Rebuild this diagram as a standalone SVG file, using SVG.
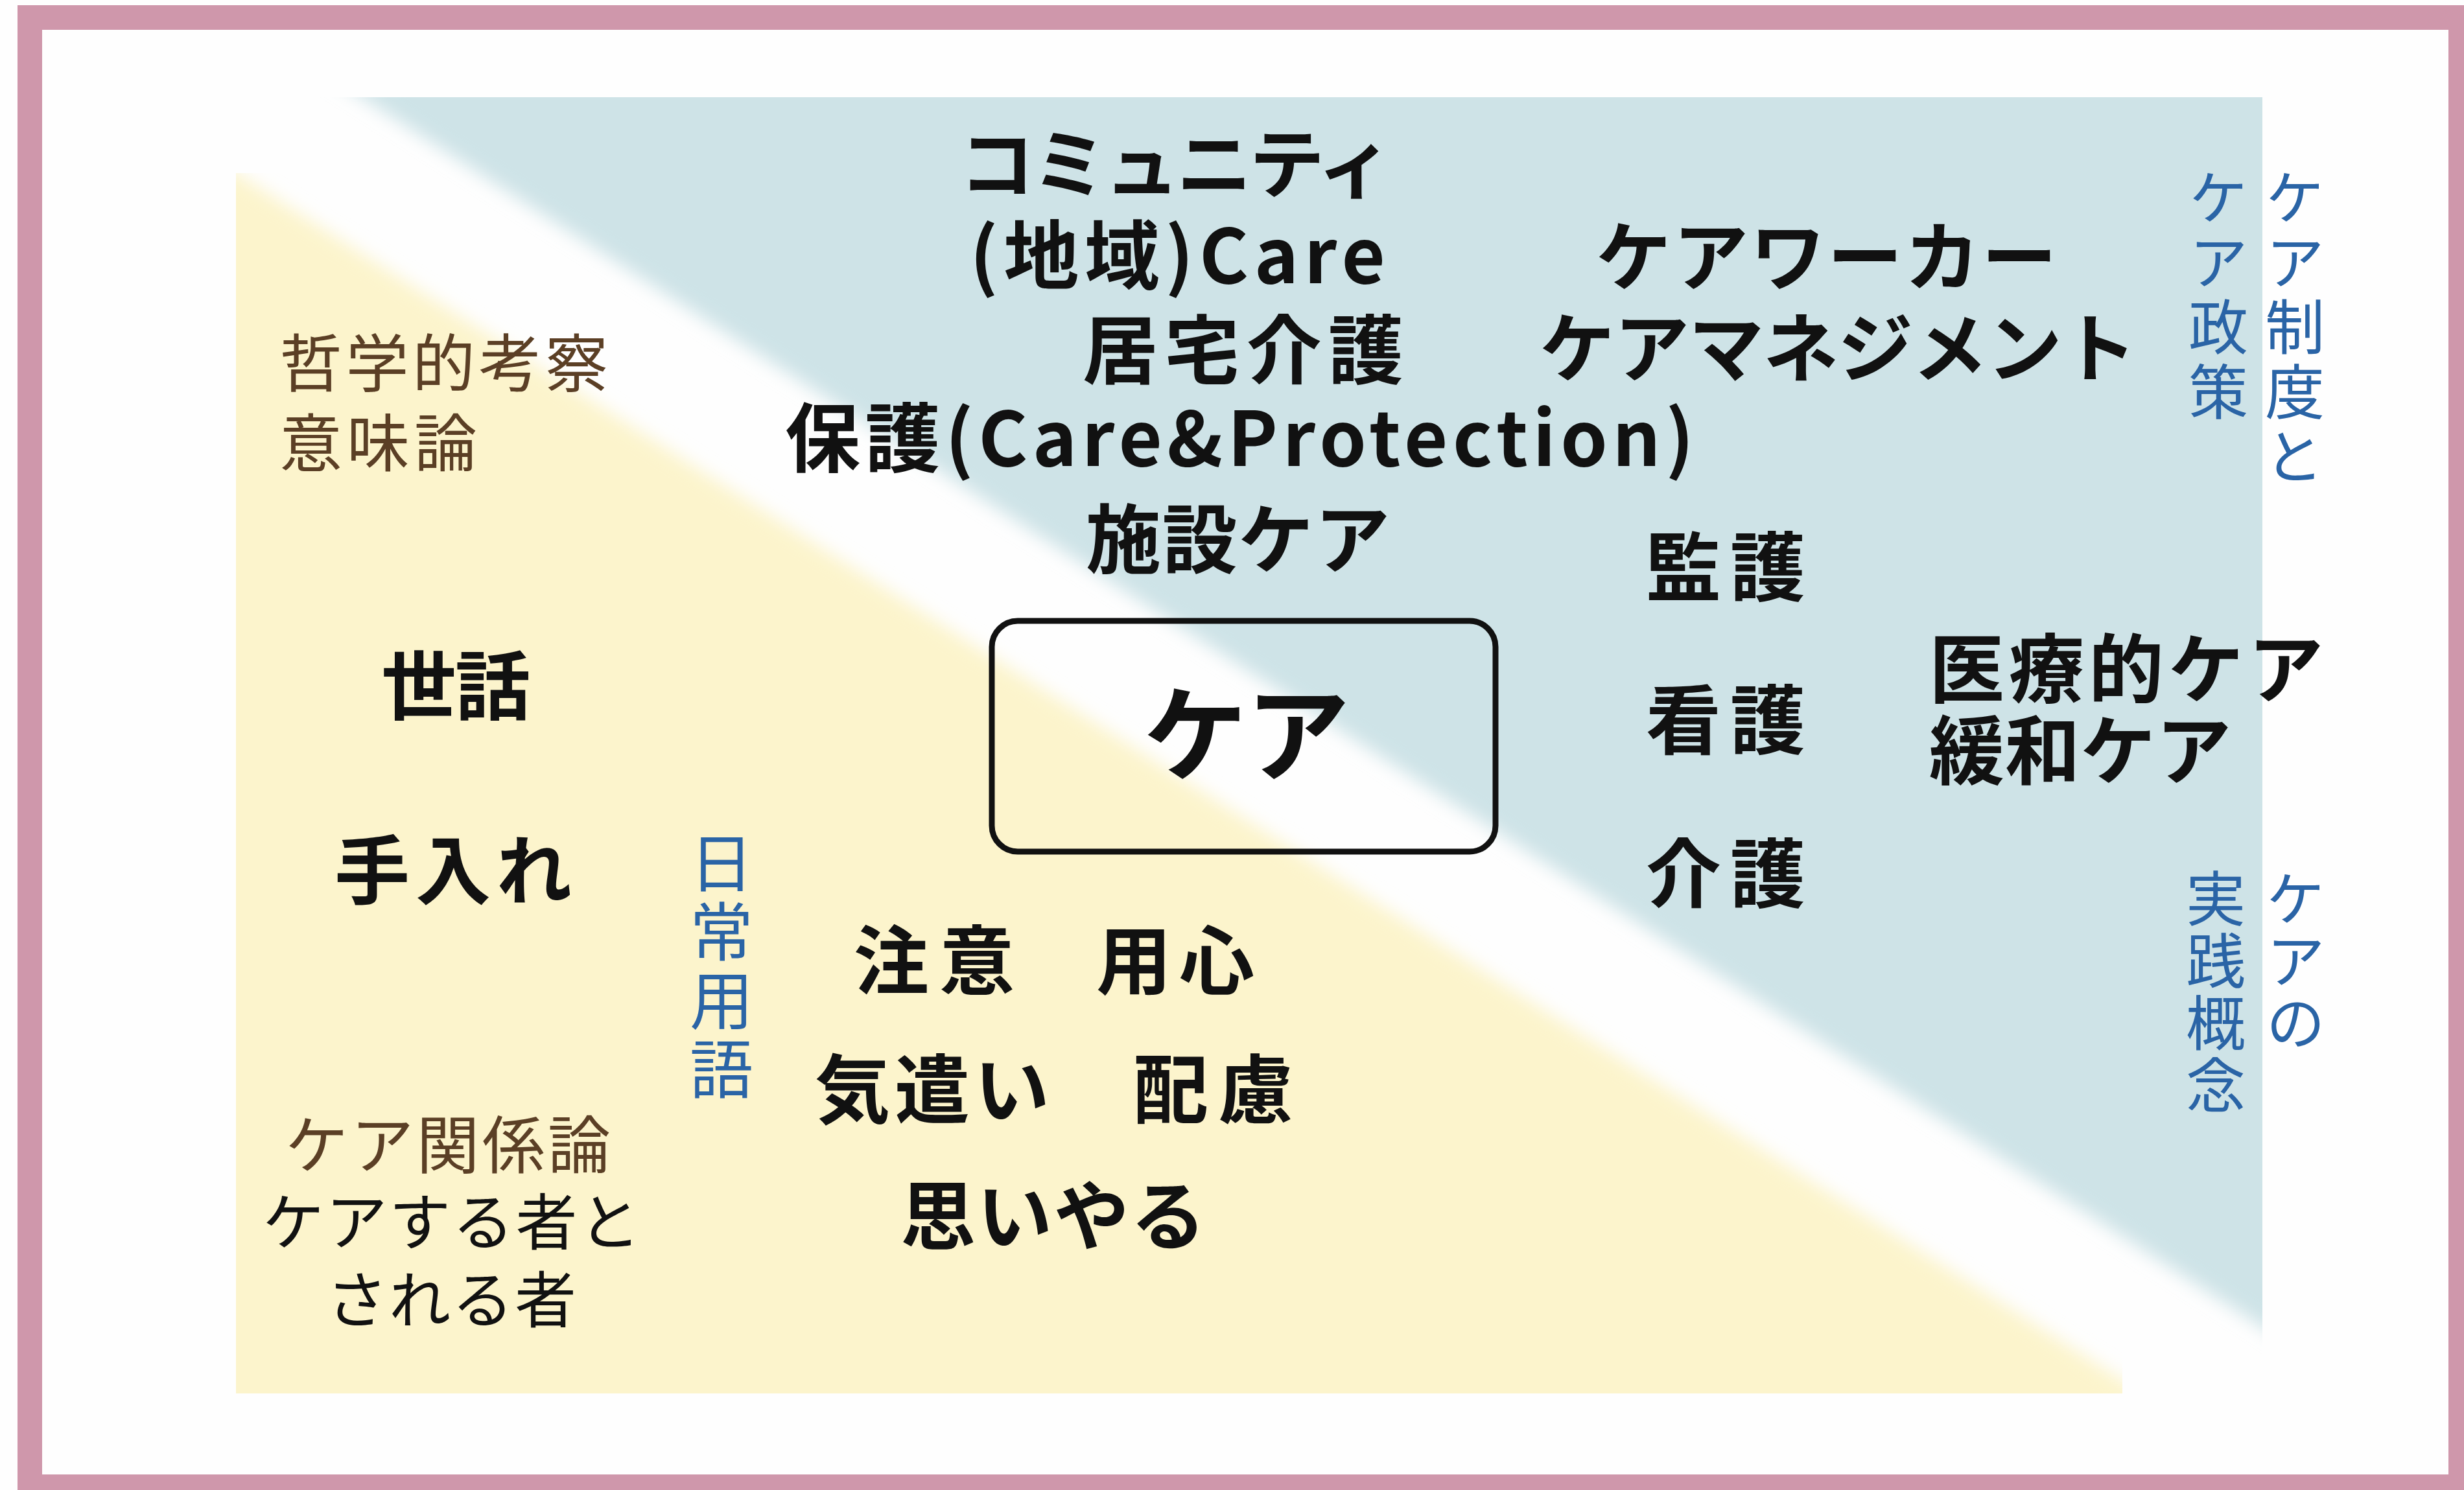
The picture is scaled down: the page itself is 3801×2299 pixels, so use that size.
<svg xmlns="http://www.w3.org/2000/svg" width="3801" height="2299" viewBox="0 0 3801 2299">
<style>
text{font-family:"Noto Sans CJK JP","Noto Sans",sans-serif;}
.b{font-size:116px;font-weight:700;fill:#111;}
.m{font-size:116px;font-weight:700;fill:#111;}
.br{font-size:97px;font-weight:400;fill:#5b3f25;}
.k{font-size:95px;font-weight:400;fill:#111;}
.bl{font-size:92px;font-weight:400;fill:#2a64a6;writing-mode:vertical-rl;}
</style>
<defs>
<filter id="soft" x="-5%" y="-5%" width="110%" height="110%"><feGaussianBlur stdDeviation="14"/></filter>
<clipPath id="clipY"><rect x="364" y="267" width="2910" height="1883"/></clipPath>
<clipPath id="clipB"><rect x="0" y="150" width="3490" height="2150"/></clipPath>
</defs>
<rect x="0" y="0" width="3801" height="2299" fill="#fefefe"/>
<g id="background">
<g clip-path="url(#clipY)"><polygon points="300,226 3420,2223 3420,2260 300,2260" fill="#fcf4cc" filter="url(#soft)"/></g>
<g clip-path="url(#clipB)"><polygon points="450,80 3650,80 3650,2151" fill="#cee3e7" filter="url(#soft)"/></g>
</g>
<rect id="frame" x="46" y="27" width="3750" height="2267" fill="none" stroke="#cf97ab" stroke-width="38"/>

<g id="center-node">
<rect x="1530" y="958" width="777" height="356" rx="40" ry="40" fill="none" stroke="#111" stroke-width="9"/>
<text x="1923" y="1193" font-size="160" font-weight="700" fill="#111" text-anchor="middle" textLength="318" lengthAdjust="spacing">ケア</text>
</g>

<g id="community"><text class="b" x="1480" y="296" textLength="668" lengthAdjust="spacing">コミュニティ</text></g>
<g id="chiiki-care"><text class="b" x="1496" y="437" textLength="641" lengthAdjust="spacing">(地域)Care</text></g>
<g id="kyotaku"><text class="b" x="1670" y="583" textLength="495" lengthAdjust="spacing">居宅介護</text></g>
<g id="hogo"><text class="b" x="1211" y="719" textLength="1402" lengthAdjust="spacing">保護(Care&amp;Protection)</text></g>
<g id="shisetsu"><text class="b" x="1675" y="875" textLength="469" lengthAdjust="spacing">施設ケア</text></g>
<g id="careworker"><text class="b" x="2462" y="439" textLength="711" lengthAdjust="spacing">ケアワーカー</text></g>
<g id="caremanagement"><text class="b" x="2375" y="580" textLength="921" lengthAdjust="spacing">ケアマネジメント</text></g>

<g id="kango1"><text class="m" x="2539" y="918" textLength="246" lengthAdjust="spacing">監護</text></g>
<g id="kango2"><text class="m" x="2539" y="1154" textLength="246" lengthAdjust="spacing">看護</text></g>
<g id="kaigo"><text class="m" x="2539" y="1391" textLength="246" lengthAdjust="spacing">介護</text></g>
<g id="iryo"><text class="m" x="2976" y="1075" textLength="608" lengthAdjust="spacing">医療的ケア</text></g>
<g id="kanwa"><text class="m" x="2976" y="1201" textLength="466" lengthAdjust="spacing">緩和ケア</text></g>

<g id="sewa"><text class="m" x="588" y="1101" textLength="230" lengthAdjust="spacing">世話</text></g>
<g id="teire"><text class="m" x="516" y="1386" textLength="366" lengthAdjust="spacing">手入れ</text></g>
<g id="chui"><text class="m" x="1317" y="1525" textLength="248" lengthAdjust="spacing">注意</text></g>
<g id="youjin"><text class="m" x="1691" y="1525" textLength="244" lengthAdjust="spacing">用心</text></g>
<g id="kizukai"><text class="m" x="1257" y="1724" textLength="362" lengthAdjust="spacing">気遣い</text></g>
<g id="hairyo"><text class="m" x="1748" y="1724" textLength="247" lengthAdjust="spacing">配慮</text></g>
<g id="omoiyaru"><text class="m" x="1389" y="1919" textLength="471" lengthAdjust="spacing">思いやる</text></g>

<g id="tetsugaku"><text class="br" x="431" y="596" textLength="507" lengthAdjust="spacing">哲学的考察</text>
<text class="br" x="431" y="719" textLength="305" lengthAdjust="spacing">意味論</text></g>
<g id="kankeiron"><text class="br" x="440" y="1802" textLength="502" lengthAdjust="spacing">ケア関係論</text>
<text class="k" x="405" y="1921" textLength="583" lengthAdjust="spacing">ケアする者と</text>
<text class="k" x="503" y="2041" textLength="386" lengthAdjust="spacing">される者</text></g>

<g id="nichijo"><text class="bl" x="1113" y="1282" style="font-size:98px;letter-spacing:8px">日常用語</text></g>
<g id="seido"><text class="bl" x="3540" y="258" style="letter-spacing:8px">ケア制度と</text>
<text class="bl" x="3422" y="258" style="letter-spacing:8px">ケア政策</text></g>
<g id="jissen"><text class="bl" x="3541" y="1340" style="letter-spacing:4px">ケアの</text>
<text class="bl" x="3418" y="1340" style="letter-spacing:4px">実践概念</text></g>
</svg>
